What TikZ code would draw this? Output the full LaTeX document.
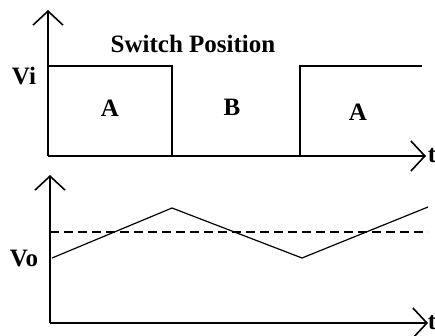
\documentclass[tikz,border=0pt]{standalone}
\usepackage{fontspec}
\setmainfont{Liberation Serif}
\usetikzlibrary{arrows.meta}

\begin{document}
\begin{tikzpicture}[x=1pt, y=-1pt, line width=1.6pt,
	axis/.style={-{Straight Barb[length=14pt, width=30pt]}},
	wave/.style={line width=1.2pt},
	lbl/.style={font=\fontsize{25}{30}\selectfont\bfseries, inner sep=0pt}]
	\useasboundingbox (0,0) rectangle (435,335);
	% Upper plot: switch position
	\coordinate (O1) at (48,156);
	\coordinate (Y1) at (48,10);
	\coordinate (X1) at (426,156);
	\draw[axis] (O1) -- (Y1);
	\draw[axis] (O1) -- (X1);
	\node[lbl, anchor=west, xshift=1pt] (t1) at (X1) {t};
	\coordinate (S1) at (48,66);
	\coordinate (S2) at (172,156);
	\coordinate (S3) at (300,156);
	\coordinate (S4) at (422,66);
	\draw (S1) -| (S2);
	\draw (S3) |- (S4);
	\node[lbl] (vi) at (24,76) {Vi};
	\node[lbl] (title) at (193,44) {Switch Position};
	\node[lbl] (posA1) at (110,108) {A};
	\node[lbl] (posB) at (232,107) {B};
	\node[lbl] (posA2) at (358,112) {A};
	% Lower plot: output voltage
	\coordinate (O2) at (50,323);
	\coordinate (Y2) at (50,175);
	\coordinate (X2) at (428,323);
	\draw[axis] (O2) -- (Y2);
	\draw[axis] (O2) -- (X2);
	\node[lbl, anchor=west, xshift=-1pt] (t2) at (X2) {t};
	\coordinate (M1) at (50,232);
	\coordinate (M2) at (428,232);
	\draw[wave, dash pattern=on 9pt off 5pt] (M1) -- (M2);
	\coordinate (V1) at (52,258);
	\coordinate (V2) at (172,208);
	\coordinate (V3) at (302,258);
	\coordinate (V4) at (428,207);
	\draw[wave] (V1) -- (V2) -- (V3) -- (V4);
	\node[lbl] (vo) at (24,258) {Vo};
\end{tikzpicture}
\end{document}
